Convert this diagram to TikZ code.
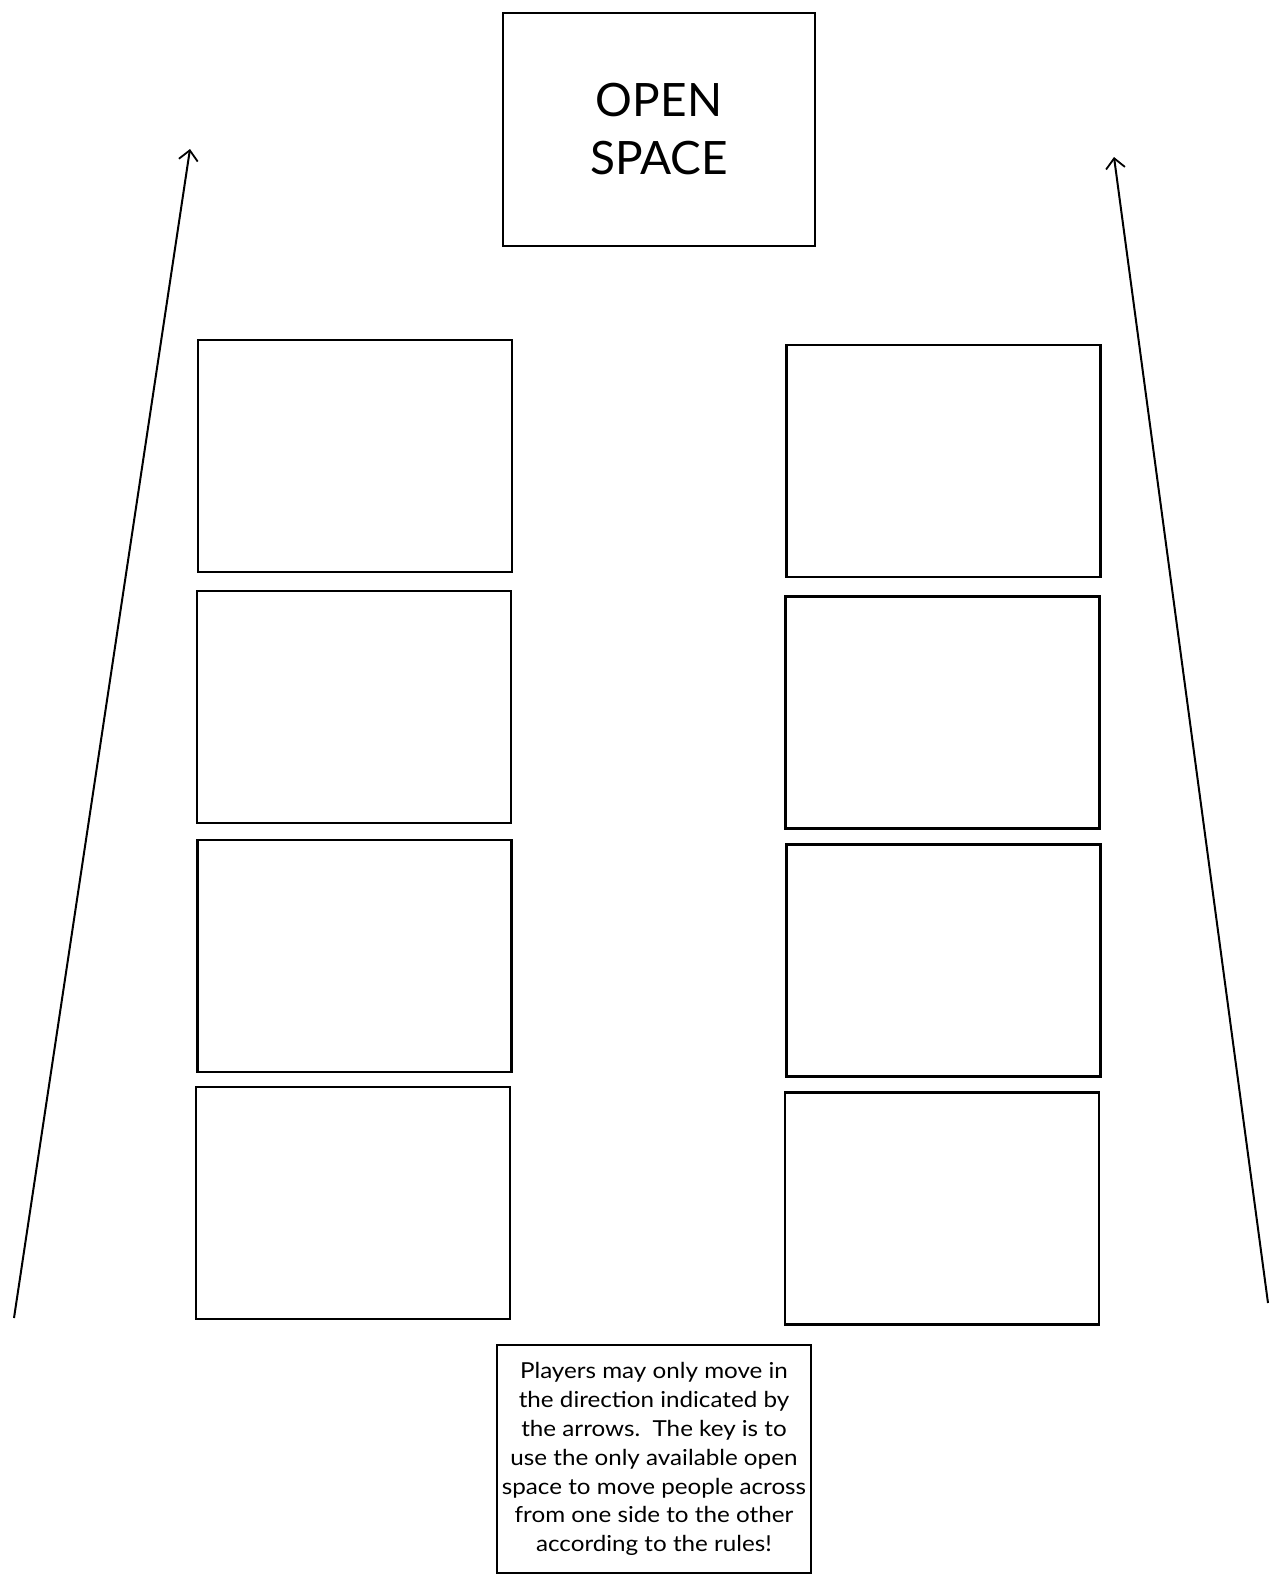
\documentclass[tikz,border=0pt]{standalone}
\usepackage{fontspec}
\setmainfont{Lato}
\newfontfamily\notefamily{Lato}[FakeStretch=1.1]
\usetikzlibrary{arrows.meta}
\begin{document}
\begin{tikzpicture}[x=1pt,y=-1pt,
  cell/.style={draw, line width=2.3pt, rectangle, minimum width=314pt, minimum height=232pt, inner sep=0pt},
  flow/.style={line width=2pt, -{Straight Barb[length=10pt,width=19pt,line width=1.8pt]}},
  titlefont/.style={font=\fontsize{46}{58}\selectfont},
  notefont/.style={font=\notefamily\fontsize{22}{28.8}\selectfont}]
\useasboundingbox (0,0) rectangle (1270,1575);
\node[cell, minimum width=312pt, minimum height=233pt, titlefont, align=center] (open) at (659,129.5) {OPEN\\SPACE};
\node[cell] (l1) at (355,456) {};
\node[cell] (l2) at (354,707) {};
\node[cell] (l3) at (354.5,956) {};
\node[cell] (l4) at (353,1203) {};
\node[cell] (r1) at (943.5,461) {};
\node[cell] (r2) at (942.5,712.5) {};
\node[cell] (r3) at (943.5,960.5) {};
\node[cell] (r4) at (942,1208.5) {};
\node[cell, minimum height=228pt, notefont, align=center, anchor=north] (note) at (654,1344) {%
Players may only move in\\the direction indicated by\\the arrows.\ \ The key is to\\use the only available open\\space to move people across\\from one side to the other\\according to the rules!};
\coordinate (lbot) at (14,1318);
\coordinate (ltop) at (190,149);
\coordinate (rbot) at (1268,1303);
\coordinate (rtop) at (1114,157);
\draw[flow] (lbot) -- (ltop);
\draw[flow] (rbot) -- (rtop);
\end{tikzpicture}
\end{document}
